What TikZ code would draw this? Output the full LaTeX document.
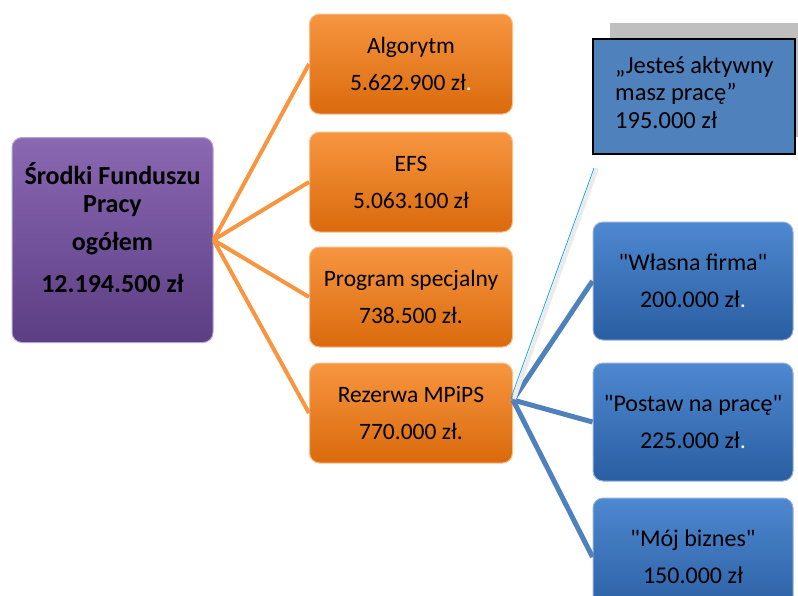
\documentclass[tikz,border=0pt]{standalone}
\usepackage{fontspec}
\setmainfont{Carlito}[Ligatures=TeXOff]
\usetikzlibrary{positioning, calc}
\definecolor{FP_Purple}{HTML}{8A68B2}
\definecolor{FP_PurpleDark}{HTML}{5C3E84}
\definecolor{FP_Orange}{HTML}{F79540}
\definecolor{FP_OrangeDark}{HTML}{DA6A0C}
\definecolor{FP_Blue}{HTML}{4F81BD}
\definecolor{FP_BlueTop}{HTML}{4E88D0}
\definecolor{FP_BlueDark}{HTML}{2A5EA2}
\definecolor{FP_Cyan}{HTML}{1EA8E6}

\tikzset{
  box/.style={rounded corners=10pt, align=center, inner sep=0pt},
  sumbox/.style={box, minimum width=201pt, minimum height=205pt,
    top color=FP_Purple, bottom color=FP_PurpleDark,
    draw=FP_Purple!60!white, line width=1pt,
    font=\fontsize{26}{28}\selectfont\bfseries},
  orbox/.style={box, minimum width=203pt, minimum height=100pt,
    top color=FP_Orange, bottom color=FP_OrangeDark,
    draw=FP_Orange!60!white, line width=1pt,
    font=\fontsize{23.5}{37}\selectfont},
  blbox/.style={box, minimum width=200pt, minimum height=118pt,
    top color=FP_BlueTop, bottom color=FP_BlueDark,
    draw=FP_Blue!60!white, line width=1pt,
    font=\fontsize{24}{37}\selectfont},
  orline/.style={FP_Orange, line width=4pt},
  blline/.style={FP_Blue, line width=5pt}
}

\begin{document}
\begin{tikzpicture}[x=1pt, y=-1pt]
\useasboundingbox (0,0) rectangle (798,595);
\clip (0,0) rectangle (798,595);
% --- main box ---
\node[sumbox] (sum) at (112.5,240) {Środki Funduszu\\Pracy\\[10pt]ogółem\\[14pt]12.194.500 zł\\[-4pt]\mbox{}};
% --- second level (orange) ---
\node[orbox] (alg) at (411,64) {Algorytm\\5.622.900 zł\textcolor{white}{.}};
\node[orbox] (efs) at (411,182) {EFS\\5.063.100 zł};
\node[orbox] (prog) at (411,297) {Program specjalny\\738.500 zł.};
\node[orbox] (rez) at (411,413) {Rezerwa MPiPS\\770.000 zł.};
% --- third level (blue) ---
\node[blbox] (wlasna) at (693,281) {"Własna firma"\\200.000 zł\textcolor{white}{.}};
\node[blbox] (postaw) at (693,422) {"Postaw na pracę"\\225.000 zł\textcolor{white}{.}};
\node[blbox] (biznes) at (693,557) {"Mój biznes"\\150.000 zł};
% --- connectors ---
\foreach \n in {alg, efs, prog, rez}
  \draw[orline] (sum.east) -- (\n.west);
\coordinate (hub) at ($(rez.east)+(0,-13)$);
\foreach \n in {wlasna, postaw, biznes}
  \draw[blline] (hub) -- (\n.west);
% --- text box at the top right ---
\fill[black!25] (610,23) rectangle (798,137);
\node[draw=black, line width=1.2pt, fill=FP_Blue, minimum width=202pt, minimum height=115pt,
  inner sep=0pt] (aktywny) at (694,96.5) {};
\node[anchor=north west, align=left, inner sep=0pt,
  font=\fontsize{24.5}{27.5}\selectfont] (aktywnytxt) at (615,56)
  {„Jesteś aktywny\\masz pracę”\\195.000 zł};
% thin callout line
\coordinate (callA) at (511,398);
\coordinate (callB) at (594,168);
\draw[black!8, line width=4pt] ($(callA)+(3,1)$) -- ($(callB)+(3,0)$);
\draw[FP_Cyan, line width=0.8pt] (callA) -- (callB);
\end{tikzpicture}
\end{document}
